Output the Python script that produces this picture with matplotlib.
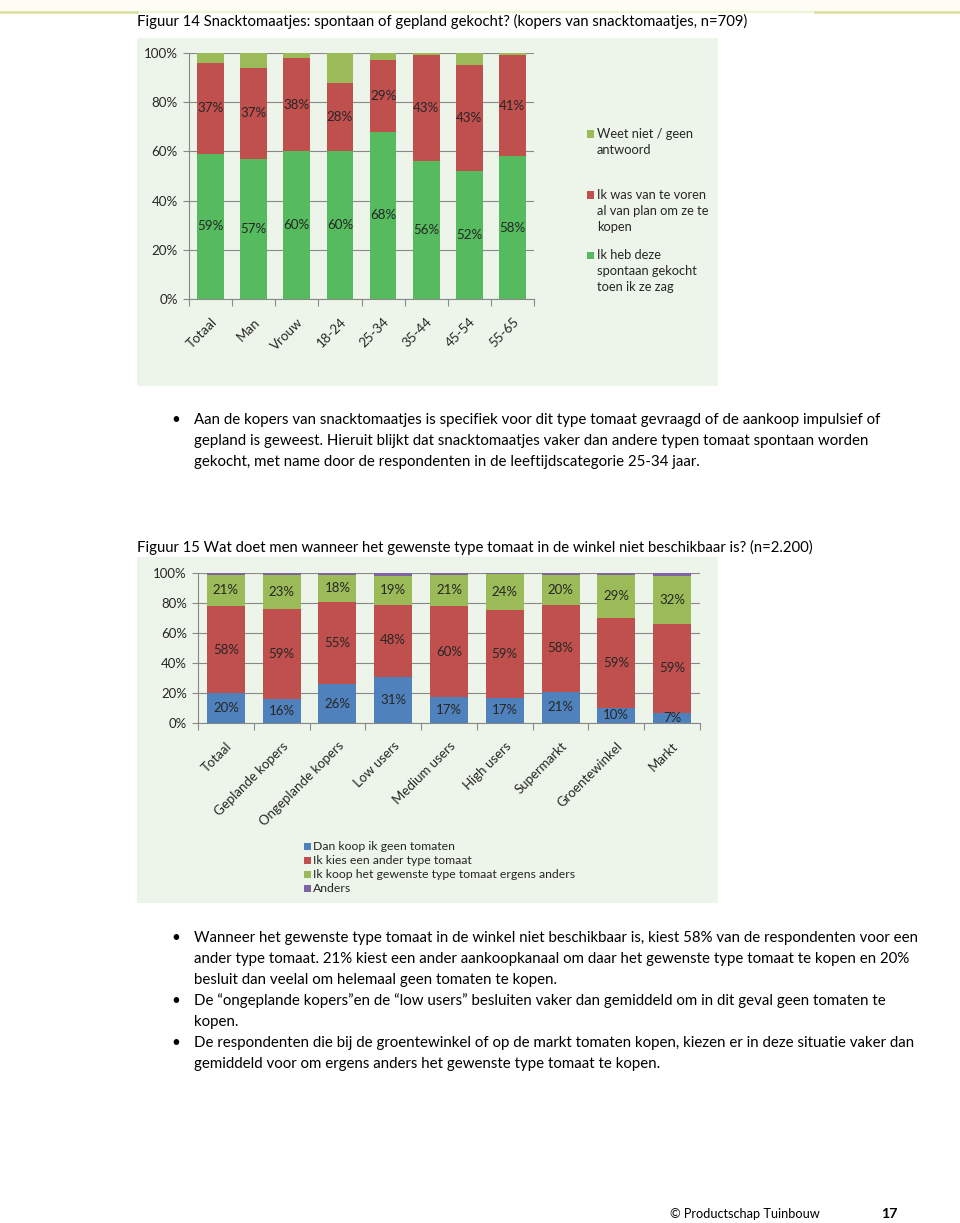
import matplotlib
matplotlib.use("Agg")
import matplotlib.pyplot as plt
from matplotlib.patches import Rectangle
from matplotlib.lines import Line2D
import numpy as np

W, H = 960, 1223
plt.rcParams["font.family"] = ["Lato", "DejaVu Sans"]

# ---- data: figuur 14 (snacktomaatjes) ----
cats1 = ["Totaal", "Man", "Vrouw", "18-24", "25-34", "35-44", "45-54", "55-65"]
spontaan = [59, 57, 60, 60, 68, 56, 52, 58]
gepland = [37, 37, 38, 28, 29, 43, 43, 41]
weet_niet = [4, 6, 2, 12, 3, 1, 5, 1]
leg1 = [("Weet niet / geen", "antwoord"),
        ("Ik was van te voren", "al van plan om ze te", "kopen"),
        ("Ik heb deze", "spontaan gekocht", "toen ik ze zag")]

# ---- data: figuur 15 (tomaat niet beschikbaar) ----
cats2 = ["Totaal", "Geplande kopers", "Ongeplande kopers", "Low users", "Medium users",
         "High users", "Supermarkt", "Groentewinkel", "Markt"]
geen = [20, 16, 26, 31, 17, 17, 21, 10, 7]
ander_type = [58, 59, 55, 48, 60, 59, 58, 59, 59]
elders = [21, 23, 18, 19, 21, 24, 20, 29, 32]
anders = [1, 1, 1, 2, 1, 1, 1, 1, 2]
leg2 = ["Dan koop ik geen tomaten", "Ik kies een ander type tomaat",
        "Ik koop het gewenste type tomaat ergens anders", "Anders"]

GREEN, RED, LGREEN, BLUE, PURPLE = "#55bb5e", "#c0504d", "#9bbb59", "#4f81bd", "#8064a2"
PANEL, GRID, TXT = "#edf5ea", "#888888", "#262626"
BODY = 10.8

fig = plt.figure(figsize=(W / 100, H / 100), dpi=100, facecolor="white")

def fx(x): return x / W
def fy(y): return 1 - y / H
def axes_px(x0, y0, x1, y1):
    return fig.add_axes([fx(x0), fy(y1), (x1 - x0) / W, (y1 - y0) / H])
def panel(x0, y0, x1, y1, col=PANEL):
    fig.add_artist(Rectangle((fx(x0), fy(y1)), (x1 - x0) / W, (y1 - y0) / H,
                             transform=fig.transFigure, fc=col, ec="none", zorder=-1))
def hline(x0, x1, y, col, lw):
    fig.add_artist(Line2D([fx(x0), fx(x1)], [fy(y), fy(y)], transform=fig.transFigure, color=col, lw=lw))
def txt(x, y, s, **kw):
    kw.setdefault("fontsize", BODY); kw.setdefault("color", "black"); kw.setdefault("va", "center")
    fig.text(fx(x), fy(y), s, **kw)

def stacked(ax, cats, series, colors, labelled, width, fs):
    x = np.arange(len(cats))
    tot = np.sum(series, axis=0).astype(float)
    bottom = np.zeros(len(cats))
    for vals, col, lab in zip(series, colors, labelled):
        h = np.array(vals) / tot * 100
        ax.bar(x, h, width, bottom=bottom, color=col, zorder=3)
        if lab:
            for xi, bi, hi, v in zip(x, bottom, h, vals):
                ax.text(xi, bi + hi / 2, f"{v}%", ha="center", va="center", fontsize=fs, color=TXT, zorder=4)
        bottom += h
    ax.set_facecolor("none")
    ax.set_xlim(-0.5, len(cats) - 0.5); ax.set_ylim(0, 100)
    ax.set_yticks(range(0, 101, 20)); ax.set_yticklabels([f"{v}%" for v in range(0, 101, 20)], fontsize=fs, color=TXT)
    ax.grid(axis="y", color=GRID, lw=0.8, zorder=0)
    for s in ("top", "right"): ax.spines[s].set_visible(False)
    for s in ("left", "bottom"): ax.spines[s].set_color(GRID); ax.spines[s].set_linewidth(0.8)
    ax.set_xticks(x); ax.set_xticklabels(cats, rotation=45, ha="right", rotation_mode="anchor", fontsize=fs, color=TXT)
    ax.set_xticks(np.arange(-0.5, len(cats)), minor=True)
    ax.tick_params(axis="x", which="major", length=0, pad=12)
    ax.tick_params(axis="x", which="minor", length=5, color=GRID, width=0.8)
    ax.tick_params(axis="y", length=4, color=GRID, width=0.8, pad=4)

# ---- kopregel + figuur 14 ----
panel(0, 0, 960, 11, "#fdfdf4")
hline(137, 815, 12, "#f1f3d6", 1.5)
hline(0, 137, 12, "#d6de9e", 1.8)
hline(815, 960, 12, "#d6de9e", 1.8)
txt(137, 21, "Figuur 14 Snacktomaatjes: spontaan of gepland gekocht? (kopers van snacktomaatjes, n=709)", fontsize=10.7)

panel(137, 38, 718, 386)
ax1 = axes_px(189, 53, 534, 299)
stacked(ax1, cats1, [spontaan, gepland, weet_niet], [GREEN, RED, LGREEN], [True, True, False], 0.62, 9.6)

for (lines, col, y0) in zip(leg1, [LGREEN, RED, GREEN], [134, 195, 255]):
    fig.add_artist(Rectangle((fx(587), fy(y0 + 3.5)), 7 / W, 7 / H, transform=fig.transFigure, fc=col, ec="none"))
    for i, ln in enumerate(lines):
        txt(597, y0 + 16 * i, ln, fontsize=9.3, color=TXT)

# ---- tekst figuur 14 ----
body1 = ["Aan de kopers van snacktomaatjes is specifiek voor dit type tomaat gevraagd of de aankoop impulsief of",
         "gepland is geweest. Hieruit blijkt dat snacktomaatjes vaker dan andere typen tomaat spontaan worden",
         "gekocht, met name door de respondenten in de leeftijdscategorie 25-34 jaar."]
txt(171, 420, "•")
for i, ln in enumerate(body1):
    txt(194, 420 + 21 * i, ln)

# ---- figuur 15 ----
txt(137, 547, "Figuur 15 Wat doet men wanneer het gewenste type tomaat in de winkel niet beschikbaar is? (n=2.200)", fontsize=10.7)
panel(137, 557, 718, 903)
ax2 = axes_px(198, 573, 700, 723)
stacked(ax2, cats2, [geen, ander_type, elders, anders], [BLUE, RED, LGREEN, PURPLE],
        [True, True, True, False], 0.68, 9.5)

for i, (lab, col) in enumerate(zip(leg2, [BLUE, RED, LGREEN, PURPLE])):
    y = 846 + 14 * i
    fig.add_artist(Rectangle((fx(304), fy(y + 3.5)), 7 / W, 7 / H, transform=fig.transFigure, fc=col, ec="none"))
    txt(313, y, lab, fontsize=8.8, color=TXT)

# ---- tekst figuur 15 ----
body2 = [["Wanneer het gewenste type tomaat in de winkel niet beschikbaar is, kiest 58% van de respondenten voor een",
          "ander type tomaat. 21% kiest een ander aankoopkanaal om daar het gewenste type tomaat te kopen en 20%",
          "besluit dan veelal om helemaal geen tomaten te kopen."],
         ["De \u201congeplande kopers\u201den de \u201clow users\u201d besluiten vaker dan gemiddeld om in dit geval geen tomaten te",
          "kopen."],
         ["De respondenten die bij de groentewinkel of op de markt tomaten kopen, kiezen er in deze situatie vaker dan",
          "gemiddeld voor om ergens anders het gewenste type tomaat te kopen."]]
y = 938
for para in body2:
    txt(171, y, "•")
    for ln in para:
        txt(194, y, ln); y += 21

# ---- voettekst ----
txt(670, 1214, "\u00a9 Productschap Tuinbouw", fontsize=9.2)
txt(881, 1214, "17", fontsize=10.3, fontweight="bold")

fig.savefig("out.png", dpi=100, facecolor="white")
